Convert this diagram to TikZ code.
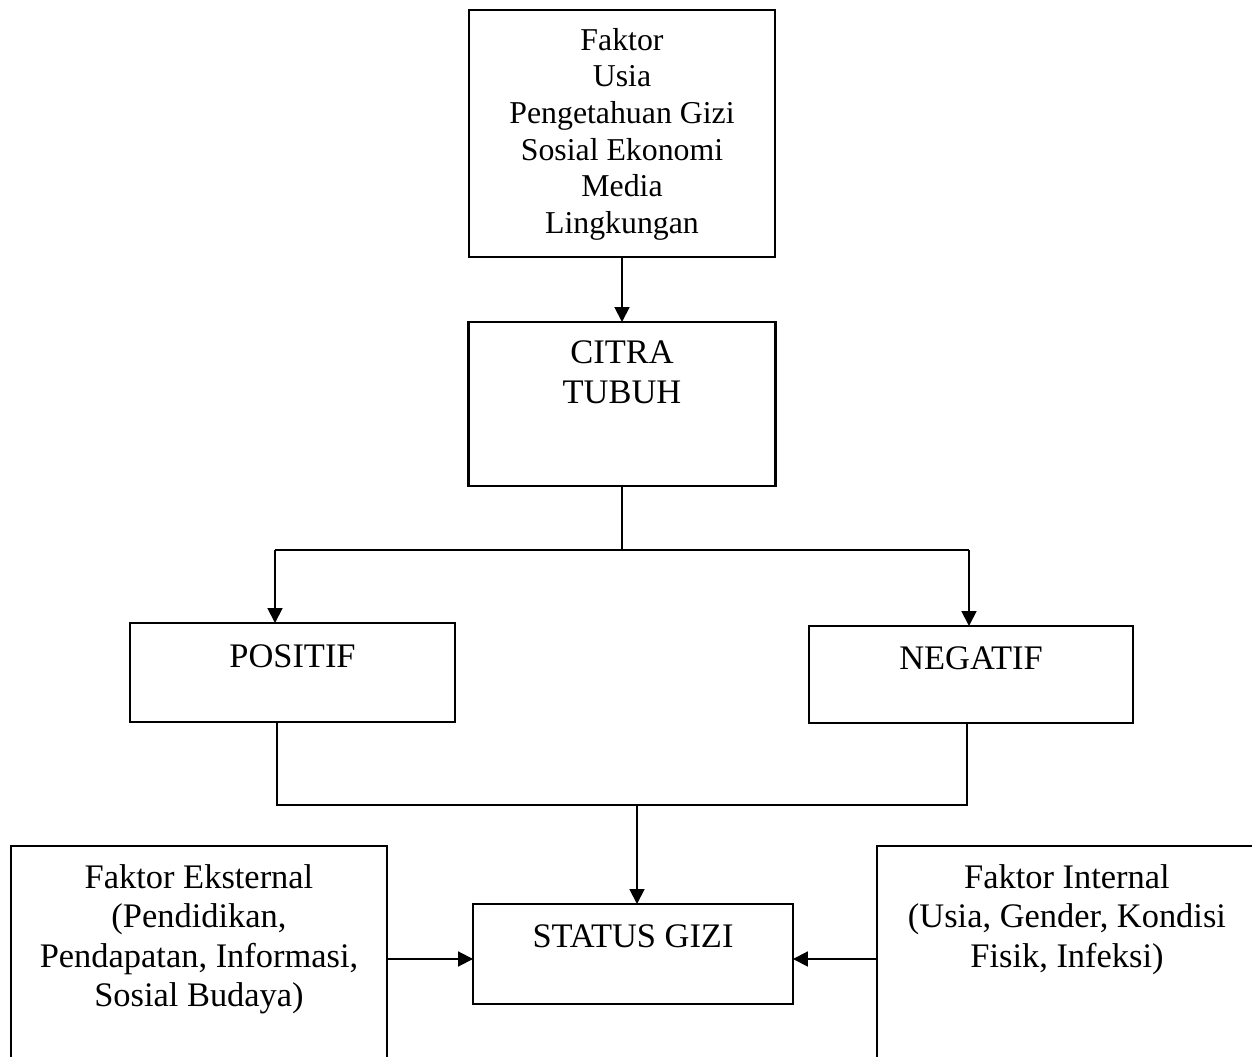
\documentclass[tikz,border=0pt]{standalone}
\usepackage{fontspec}
\setmainfont{Liberation Serif}
\usetikzlibrary{positioning}
\usetikzlibrary{arrows.meta}

\begin{document}
\begin{tikzpicture}[x=0.02cm,y=-0.02cm,
		kotak/.style={draw,line width=1.4pt,rectangle,inner sep=0,outer sep=0},
		teks/.style={align=center,inner sep=0,font=\fontsize{19.6}{22.5}\selectfont},
		garis/.style={line width=1.1pt},
		panah/.style={line width=1.1pt,-{Triangle[length=8.5pt,width=8.5pt]}}]
		\useasboundingbox (0,0) rectangle (1252,1057);
		
		\node[kotak,minimum width=6.12cm,minimum height=4.94cm] (faktor) at (622,133.5) {};
		\node[teks,font=\fontsize{18.1}{20.8}\selectfont,below=0.36cm of faktor.north] (faktorT) {Faktor\\Usia\\Pengetahuan Gizi\\Sosial Ekonomi\\Media\\Lingkungan};
		
		\node[kotak,minimum width=6.14cm,minimum height=3.28cm] (citra) at (622,404) {};
		\node[teks,below=0.37cm of citra.north] (citraT) {CITRA\\TUBUH};
		
		\node[kotak,minimum width=6.5cm,minimum height=1.98cm] (positif) at (292.5,672.5) {};
		\node[teks,below=0.43cm of positif.north] (positifT) {POSITIF};
		
		\node[kotak,minimum width=6.48cm,minimum height=1.94cm] (negatif) at (971,674.5) {};
		\node[teks,below=0.41cm of negatif.north] (negatifT) {NEGATIF};
		
		\node[kotak,minimum width=6.4cm,minimum height=2cm] (status) at (633,954) {};
		\node[teks,below=0.41cm of status.north] (statusT) {STATUS GIZI};
		
		\node[kotak,minimum width=7.52cm,minimum height=4.68cm] (eksternal) at (199,963) {};
		\node[teks,below=0.36cm of eksternal.north] (eksternalT) {Faktor Eksternal\\(Pendidikan,\\Pendapatan, Informasi,\\Sosial Budaya)};
		
		\node[kotak,minimum width=7.6cm,minimum height=4.68cm] (internal) at (1067,963) {};
		\node[teks,below=0.36cm of internal.north] (internalT) {Faktor Internal\\(Usia, Gender, Kondisi\\Fisik, Infeksi)};
		
		\coordinate (cabang) at (622,550);
		\coordinate (cabangKiri) at (275,550);
		\coordinate (cabangKanan) at (969,550);
		\coordinate (gabung) at (637,805);
		\coordinate (gabungKiri) at (277,805);
		\coordinate (gabungKanan) at (967,805);
		
		\draw[panah] (faktor.south) -- (citra.north);
		\draw[garis] (citra.south) -- (cabang);
		\draw[garis] (cabangKiri) -- (cabangKanan);
		\draw[panah] (cabangKiri) -- (cabangKiri |- positif.north);
		\draw[panah] (cabangKanan) -- (cabangKanan |- negatif.north);
		
		\draw[garis] (gabungKiri |- positif.south) -- (gabungKiri) -- (gabungKanan) -- (gabungKanan |- negatif.south);
		\draw[panah] (gabung) -- (gabung |- status.north);
		
		\draw[panah] (eksternal.east |- 0,959) -- ([yshift=-0.1cm]status.west);
		\draw[panah] (internal.west |- 0,959) -- ([yshift=-0.1cm]status.east);
\end{tikzpicture}
\end{document}
